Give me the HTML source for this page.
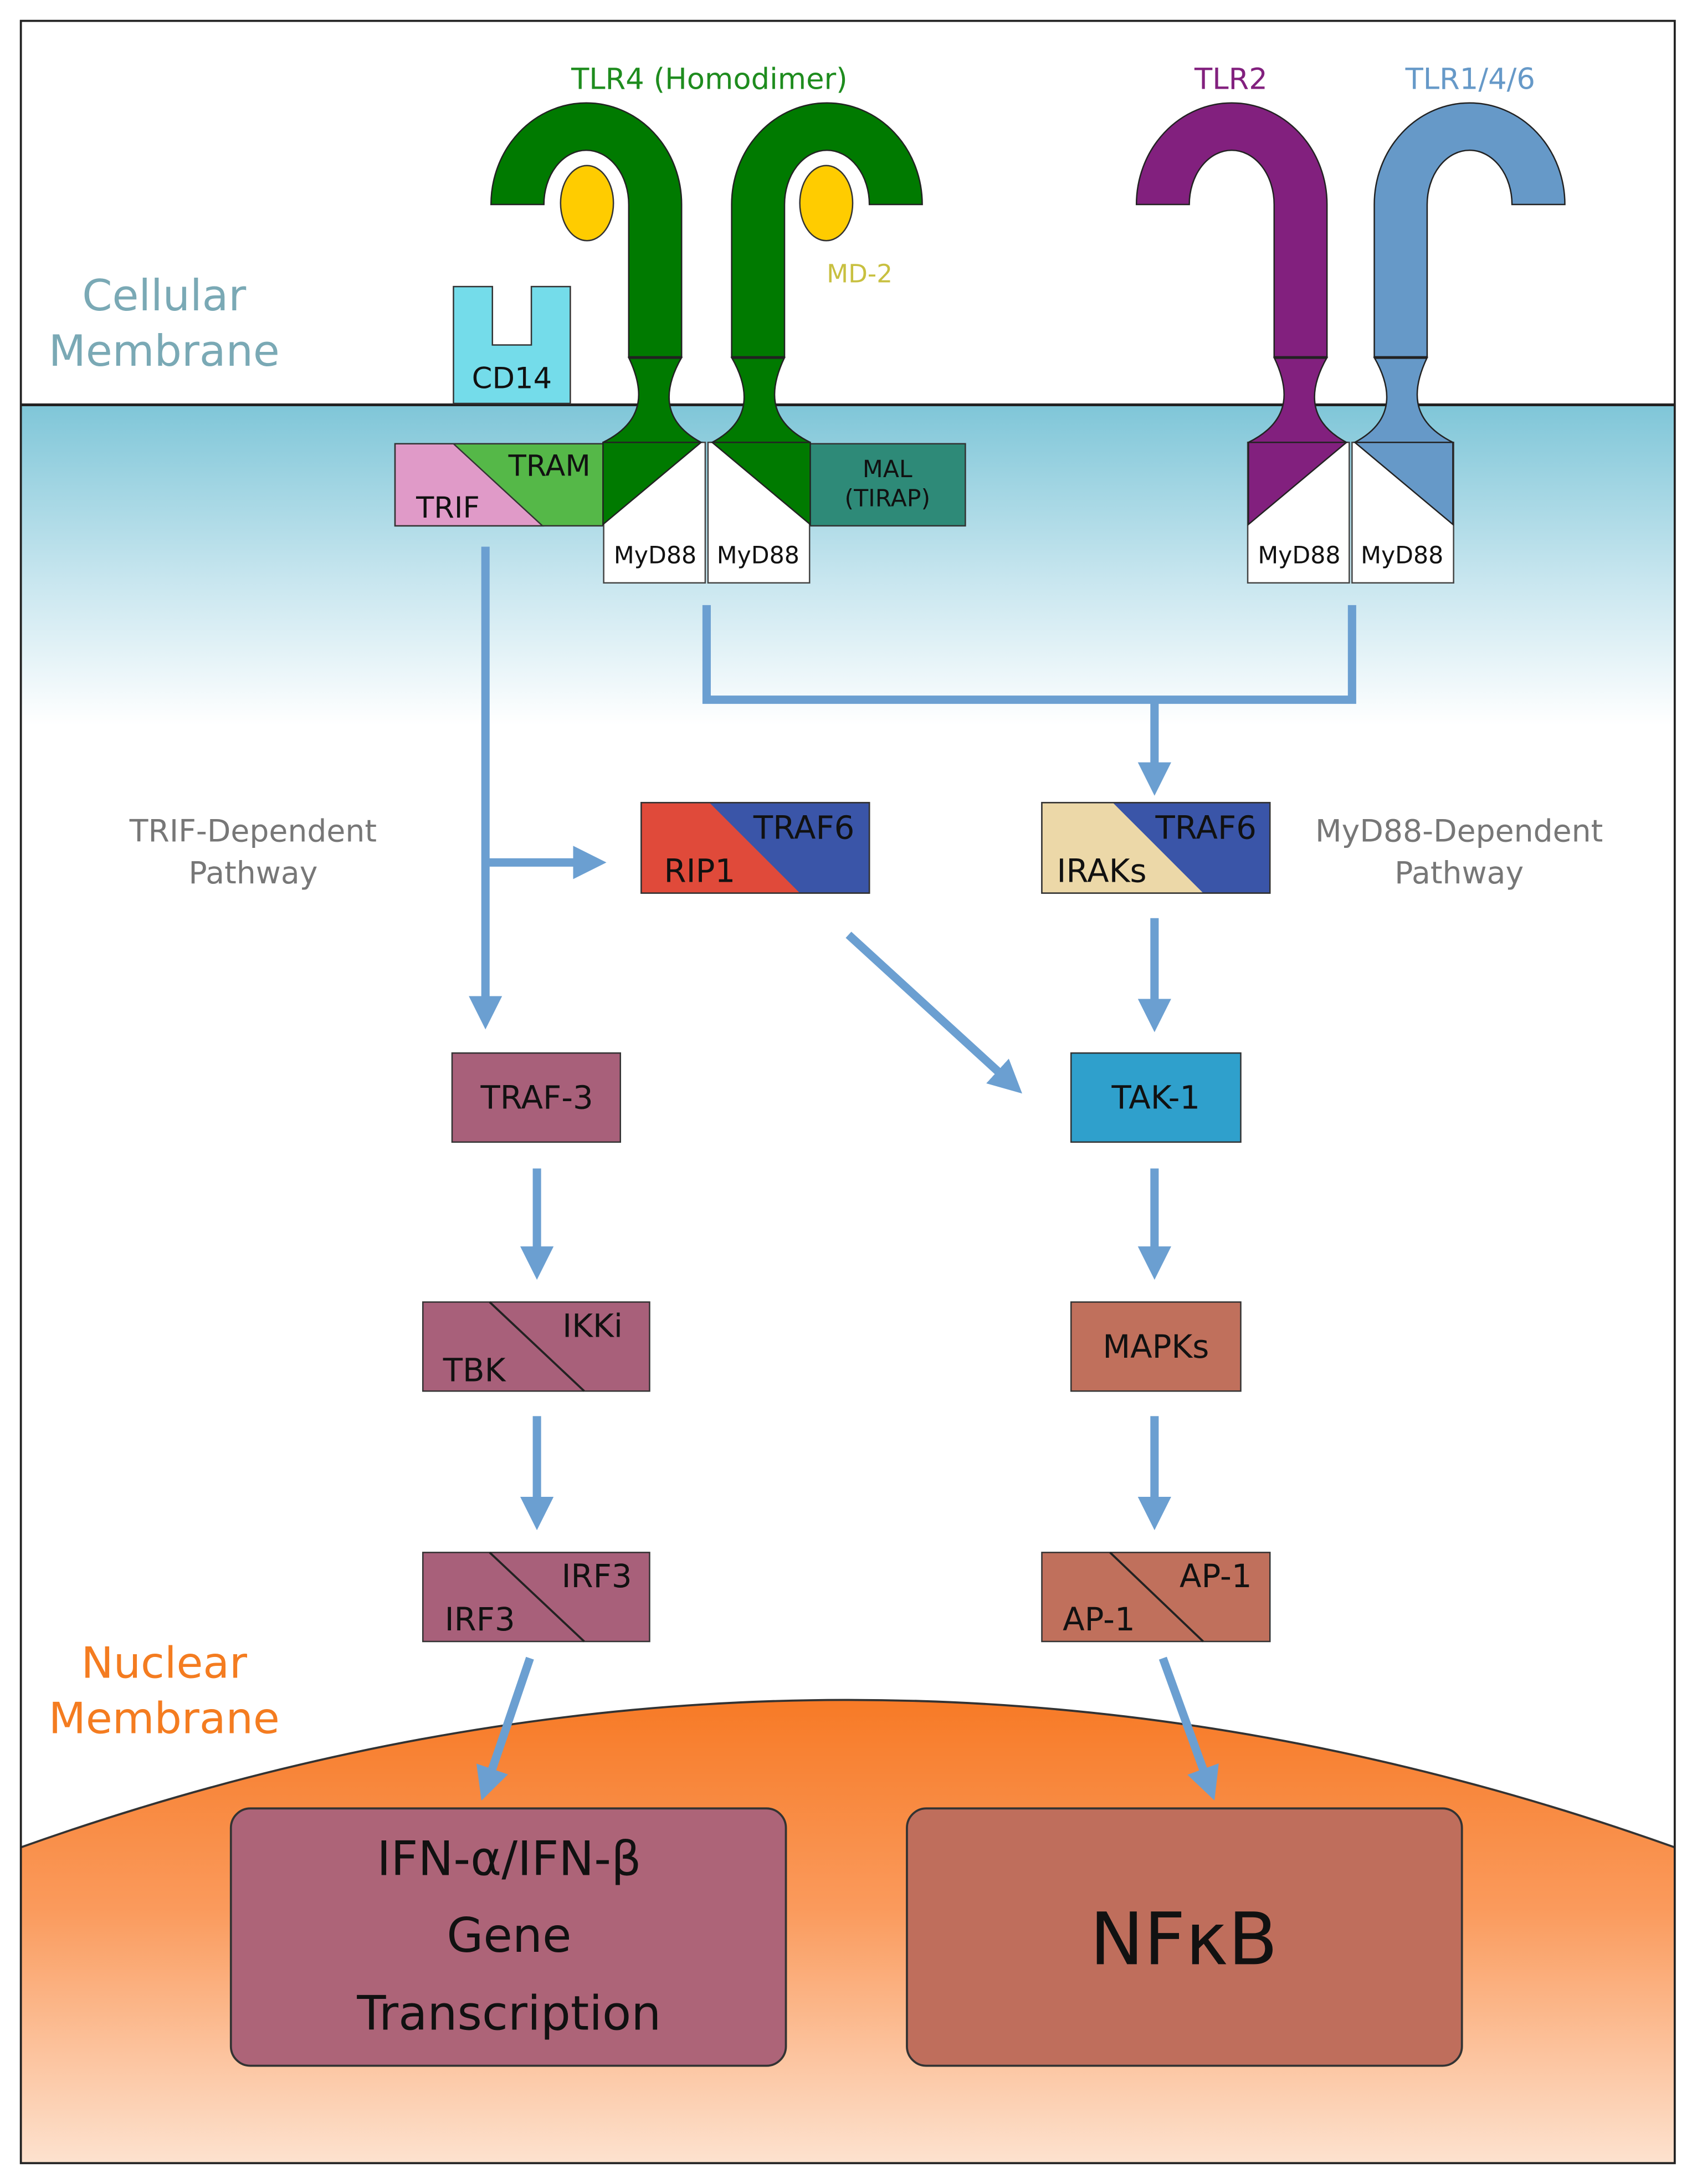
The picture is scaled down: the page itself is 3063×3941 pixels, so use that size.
<!DOCTYPE html>
<html><head><meta charset="utf-8"><style>
html,body{margin:0;padding:0;background:#fff}
svg{display:block}
text{font-family:"DejaVu Sans","Liberation Sans",sans-serif}
</style></head><body>
<svg width="3063" height="3941" viewBox="0 0 1220 1570" preserveAspectRatio="none" xmlns="http://www.w3.org/2000/svg">
<defs>
<linearGradient id="mem" x1="0" y1="0" x2="0" y2="1">
<stop offset="0" stop-color="#7fc6d8"/><stop offset="0.55" stop-color="#c8e6ef"/><stop offset="1" stop-color="#ffffff"/>
</linearGradient>
<linearGradient id="nuc" x1="0" y1="0" x2="0" y2="1">
<stop offset="0" stop-color="#f77a26"/><stop offset="0.45" stop-color="#fa9a5c"/><stop offset="1" stop-color="#fde2cf"/>
</linearGradient>
<marker id="ah" viewBox="0 0 10 10" refX="5" refY="5" markerWidth="4" markerHeight="4" orient="auto">
<path d="M0,0 L10,5 L0,10 Z" fill="#6b9fd1"/>
</marker>
<g id="hook">
<path d="M353,147 A68.5,73 0 0 1 490,147 L490,257 L452,257 L452,147 A30.5,39 0 0 0 391,147 Z" stroke="#222" stroke-width="1"/>
<path d="M452,257 L490,257 C478,278 474,302 504,318 L433.5,318 C466,302 462,278 452,257 Z" stroke="#222" stroke-width="1"/>
<line x1="452" y1="257" x2="490" y2="257" stroke="#222" stroke-width="2"/>
</g>
</defs>
<rect width="1220" height="1570" fill="#fff"/>
<rect x="15" y="291" width="1189" height="230" fill="url(#mem)"/>
<line x1="15" y1="291" x2="1204" y2="291" stroke="#222" stroke-width="2"/>
<path d="M15,1328 Q610,1116 1204,1328 L1204,1555 L15,1555 Z" fill="url(#nuc)"/>
<path d="M15,1328 Q610,1116 1204,1328" fill="none" stroke="#333" stroke-width="1.5"/>
<rect x="15" y="15" width="1189" height="1540" fill="none" stroke="#222" stroke-width="1.5"/>

<text x="118" y="223" font-size="31" fill="#7aa9b5" text-anchor="middle">Cellular</text>
<text x="118" y="263" font-size="31" fill="#7aa9b5" text-anchor="middle">Membrane</text>
<text x="118" y="1206" font-size="31" fill="#f47c20" text-anchor="middle">Nuclear</text>
<text x="118" y="1246" font-size="31" fill="#f47c20" text-anchor="middle">Membrane</text>

<!-- CD14 -->
<path d="M326,206 L354,206 L354,248 L382,248 L382,206 L410,206 L410,290 L326,290 Z" fill="#74dcea" stroke="#333" stroke-width="1"/>
<text x="368" y="279" font-size="21" fill="#111" text-anchor="middle">CD14</text>

<!-- TRIF/TRAM -->
<rect x="284" y="319" width="150" height="59" fill="#55b848" stroke="#333" stroke-width="1"/>
<path d="M284,319 L326,319 L390,378 L284,378 Z" fill="#e09ac8" stroke="#333" stroke-width="1"/>
<text x="395" y="342" font-size="21" fill="#111" text-anchor="middle">TRAM</text>
<text x="322" y="372" font-size="21" fill="#111" text-anchor="middle">TRIF</text>
<!-- MAL -->
<rect x="582" y="319" width="112" height="59" fill="#2e8a78" stroke="#333" stroke-width="1"/>
<text x="638" y="343" font-size="17" fill="#111" text-anchor="middle">MAL</text>
<text x="638" y="364" font-size="17" fill="#111" text-anchor="middle">(TIRAP)</text>

<!-- MyD88 boxes TLR4 -->
<rect x="434" y="318" width="73" height="101" fill="#fff" stroke="#444" stroke-width="1"/>
<rect x="509" y="318" width="73" height="101" fill="#fff" stroke="#444" stroke-width="1"/>
<!-- MyD88 boxes TLR2 -->
<rect x="897" y="318" width="73" height="101" fill="#fff" stroke="#444" stroke-width="1"/>
<rect x="972" y="318" width="73" height="101" fill="#fff" stroke="#444" stroke-width="1"/>

<!-- TLR4 hooks -->
<g fill="#007a00">
<use href="#hook"/>
<path d="M433.5,318 L504,318 L433.5,377 Z" stroke="#222" stroke-width="1"/>
<g transform="translate(1016,0) scale(-1,1)">
<use href="#hook"/>
<path d="M433.5,318 L504,318 L433.5,377 Z" stroke="#222" stroke-width="1"/>
</g>
</g>
<g fill="#82207e" transform="translate(464,0)">
<use href="#hook"/>
<path d="M433.5,318 L504,318 L433.5,377 Z" stroke="#222" stroke-width="1"/>
</g>
<g fill="#6699c8" transform="translate(1478,0) scale(-1,1)">
<use href="#hook"/>
<path d="M433.5,318 L504,318 L433.5,377 Z" stroke="#222" stroke-width="1"/>
</g>
<ellipse cx="422" cy="146" rx="19" ry="27" fill="#ffcc00" stroke="#333" stroke-width="1"/>
<ellipse cx="594" cy="146" rx="19" ry="27" fill="#ffcc00" stroke="#333" stroke-width="1"/>
<text x="618" y="203" font-size="18" fill="#c8c040" text-anchor="middle">MD-2</text>

<text x="510" y="64" font-size="21" fill="#1e8c1e" text-anchor="middle">TLR4 (Homodimer)</text>
<text x="885" y="64" font-size="21" fill="#82207e" text-anchor="middle">TLR2</text>
<text x="1057" y="64" font-size="21" fill="#6699c8" text-anchor="middle">TLR1/4/6</text>

<g font-size="17" fill="#111" text-anchor="middle">
<text x="471" y="405">MyD88</text><text x="545" y="405">MyD88</text>
<text x="934" y="405">MyD88</text><text x="1008" y="405">MyD88</text>
</g>

<!-- connectors -->
<g stroke="#6b9fd1" stroke-width="6" fill="none">
<line x1="349" y1="393" x2="349" y2="728" marker-end="url(#ah)"/>
<line x1="349" y1="620" x2="424" y2="620" marker-end="url(#ah)"/>
<path d="M508,435 L508,503 L972,503 L972,435"/>
<line x1="830" y1="503" x2="830" y2="560" marker-end="url(#ah)"/>
<line x1="830" y1="660" x2="830" y2="730" marker-end="url(#ah)"/>
<line x1="610" y1="672" x2="726" y2="778" marker-end="url(#ah)"/>
<line x1="386" y1="840" x2="386" y2="908" marker-end="url(#ah)"/>
<line x1="830" y1="840" x2="830" y2="908" marker-end="url(#ah)"/>
<line x1="386" y1="1018" x2="386" y2="1088" marker-end="url(#ah)"/>
<line x1="830" y1="1018" x2="830" y2="1088" marker-end="url(#ah)"/>
<line x1="381" y1="1192" x2="350" y2="1283" marker-end="url(#ah)"/>
<line x1="836" y1="1192" x2="869" y2="1283" marker-end="url(#ah)"/>
</g>

<text x="182" y="605" font-size="22" fill="#777" text-anchor="middle">TRIF-Dependent</text>
<text x="182" y="635" font-size="22" fill="#777" text-anchor="middle">Pathway</text>
<text x="1049" y="605" font-size="22" fill="#777" text-anchor="middle">MyD88-Dependent</text>
<text x="1049" y="635" font-size="22" fill="#777" text-anchor="middle">Pathway</text>

<!-- RIP1/TRAF6 -->
<rect x="461" y="577" width="164" height="65" fill="#3a55a8" stroke="#333" stroke-width="1"/>
<path d="M461,577 L510,577 L575,642 L461,642 Z" fill="#e04a3a"/>
<rect x="461" y="577" width="164" height="65" fill="none" stroke="#333" stroke-width="1"/>
<text x="578" y="603" font-size="23" fill="#111" text-anchor="middle">TRAF6</text>
<text x="503" y="634" font-size="23" fill="#111" text-anchor="middle">RIP1</text>
<!-- IRAKs/TRAF6 -->
<rect x="749" y="577" width="164" height="65" fill="#3a55a8" stroke="#333" stroke-width="1"/>
<path d="M749,577 L800,577 L865,642 L749,642 Z" fill="#ecd8a8"/>
<rect x="749" y="577" width="164" height="65" fill="none" stroke="#333" stroke-width="1"/>
<text x="867" y="603" font-size="23" fill="#111" text-anchor="middle">TRAF6</text>
<text x="792" y="634" font-size="23" fill="#111" text-anchor="middle">IRAKs</text>

<!-- TRAF-3, TAK-1 -->
<rect x="325" y="757" width="121" height="64" fill="#a8607a" stroke="#333" stroke-width="1"/>
<text x="386" y="797" font-size="23" fill="#111" text-anchor="middle">TRAF-3</text>
<rect x="770" y="757" width="122" height="64" fill="#2fa0cc" stroke="#333" stroke-width="1"/>
<text x="831" y="797" font-size="23" fill="#111" text-anchor="middle">TAK-1</text>

<!-- TBK/IKKi, MAPKs -->
<rect x="304" y="936" width="163" height="64" fill="#a8607a" stroke="#333" stroke-width="1"/>
<line x1="352" y1="936" x2="420" y2="1000" stroke="#222" stroke-width="1.5"/>
<text x="426" y="961" font-size="23" fill="#111" text-anchor="middle">IKKi</text>
<text x="341" y="993" font-size="23" fill="#111" text-anchor="middle">TBK</text>
<rect x="770" y="936" width="122" height="64" fill="#c0705c" stroke="#333" stroke-width="1"/>
<text x="831" y="976" font-size="23" fill="#111" text-anchor="middle">MAPKs</text>

<!-- IRF3, AP-1 -->
<rect x="304" y="1116" width="163" height="64" fill="#a8607a" stroke="#333" stroke-width="1"/>
<line x1="352" y1="1116" x2="420" y2="1180" stroke="#222" stroke-width="1.5"/>
<text x="429" y="1141" font-size="23" fill="#111" text-anchor="middle">IRF3</text>
<text x="345" y="1172" font-size="23" fill="#111" text-anchor="middle">IRF3</text>
<rect x="749" y="1116" width="164" height="64" fill="#c0705c" stroke="#333" stroke-width="1"/>
<line x1="798" y1="1116" x2="865" y2="1180" stroke="#222" stroke-width="1.5"/>
<text x="874" y="1141" font-size="23" fill="#111" text-anchor="middle">AP-1</text>
<text x="790" y="1172" font-size="23" fill="#111" text-anchor="middle">AP-1</text>

<!-- big boxes -->
<rect x="166" y="1300" width="399" height="185" rx="14" fill="#ad6478" stroke="#333" stroke-width="1.5"/>
<text x="366" y="1348" font-size="34" fill="#111" text-anchor="middle">IFN-α/IFN-β</text>
<text x="366" y="1403" font-size="34" fill="#111" text-anchor="middle">Gene</text>
<text x="366" y="1459" font-size="34" fill="#111" text-anchor="middle">Transcription</text>
<rect x="652" y="1300" width="399" height="185" rx="14" fill="#bf6e5c" stroke="#333" stroke-width="1.5"/>
<text x="851" y="1412" font-size="52" fill="#111" text-anchor="middle">NFκB</text>
</svg>
</body></html>
